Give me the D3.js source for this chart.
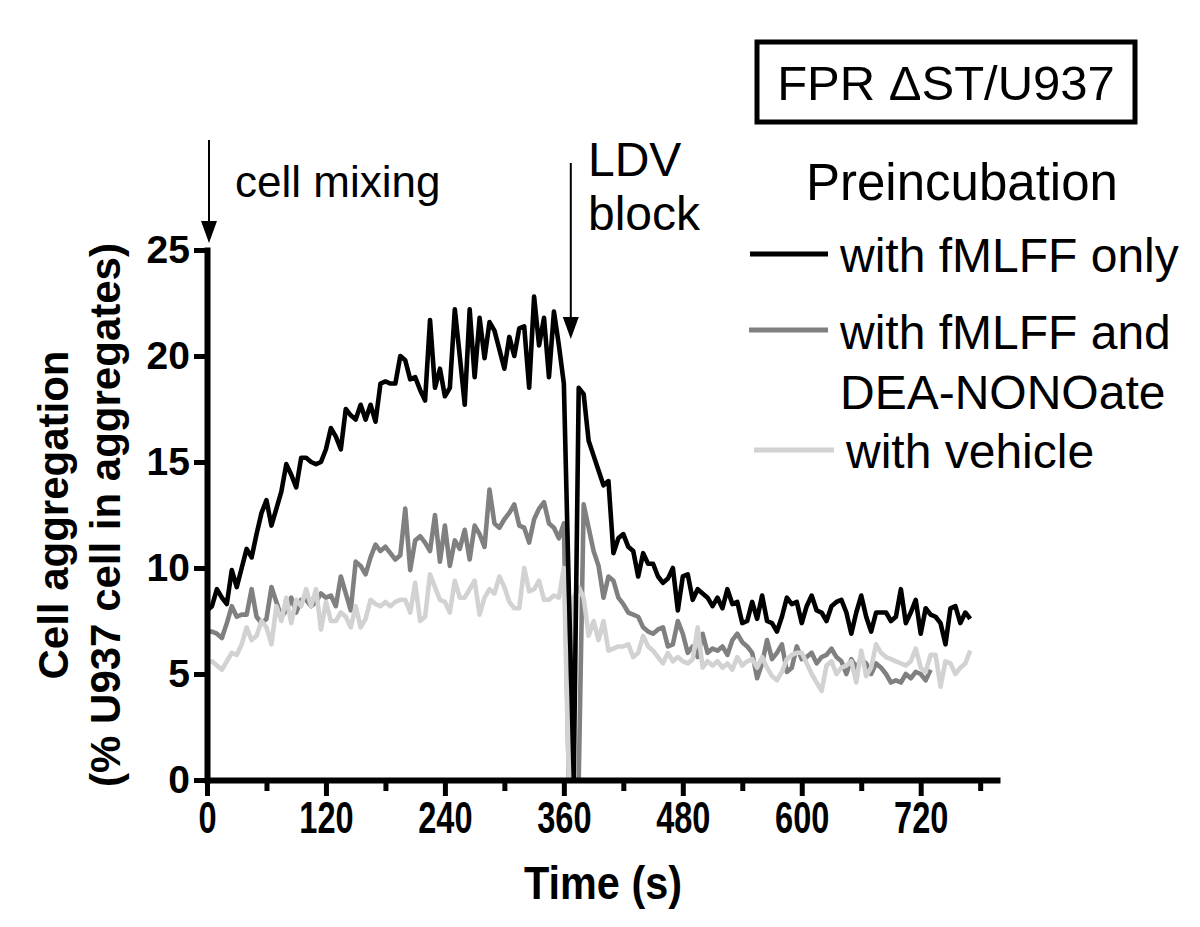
<!DOCTYPE html>
<html>
<head>
<meta charset="utf-8">
<script src="https://cdn.jsdelivr.net/npm/d3@7"></script>
<style>
body{margin:0;background:#fff;}
svg text{font-family:"Liberation Sans", Arial, Helvetica, sans-serif;}
</style>
</head>
<body>
<svg id="chart" width="1200" height="927"></svg>
<script>

// sample times (s), one reading every 5 s
var sampleTimes = [
	0,5,10,15,20,25,30,35,40,45,50,55,
	60,65,70,75,80,85,90,95,100,105,110,115,
	120,125,130,135,140,145,150,155,160,165,170,175,
	180,185,190,195,200,205,210,215,220,225,230,235,
	240,245,250,255,260,265,270,275,280,285,290,295,
	300,305,310,315,320,325,330,335,340,345,350,355,
	360,365,370,375,380,385,390,395,400,405,410,415,
	420,425,430,435,440,445,450,455,460,465,470,475,
	480,485,490,495,500,505,510,515,520,525,530,535,
	540,545,550,555,560,565,570,575,580,585,590,595,
	600,605,610,615,620,625,630,635,640,645,650,655,
	660,665,670,675,680,685,690,695,700,705,710,715,
	720,725,730,735,740,745,750,755,760,765,770
];

// % U937 cells in aggregates
var fmlffOnly = [
	8.0,8.2,9.0,8.6,8.3,9.9,9.1,10.0,10.9,10.5,11.6,12.6,
	13.2,12.0,12.8,13.6,14.9,14.4,13.8,15.2,15.2,15.0,14.9,15.0,
	15.6,16.6,16.2,15.6,17.5,17.2,17.0,17.7,17.0,17.7,16.9,18.7,
	18.8,18.7,18.7,20.0,19.8,18.9,19.0,18.4,17.9,21.7,18.5,19.4,
	18.1,18.5,22.2,20.0,17.7,22.2,19.0,21.8,19.9,21.6,21.2,20.3,
	19.4,20.9,20.0,21.3,21.4,18.5,22.8,20.5,21.8,19.0,22.1,20.5,
	18.7,9.0,0,18.5,18.2,16.0,15.3,14.6,13.9,14.1,10.7,11.4,
	11.6,11.0,10.8,9.6,10.7,10.2,10.2,9.6,9.3,9.5,10.0,8.0,
	9.6,9.7,8.5,9.0,8.8,8.6,8.2,8.6,8.1,9.0,8.3,8.4,
	7.4,7.5,8.4,7.6,8.7,7.5,7.4,7.0,7.7,8.6,8.3,8.4,
	7.4,8.2,8.7,8.0,7.9,7.5,8.2,8.4,8.5,7.9,6.9,7.9,
	8.7,7.7,7.0,7.9,7.9,7.9,7.5,7.7,9.0,7.4,7.9,8.5,
	6.9,8.1,7.8,7.7,7.4,6.4,8.1,8.2,7.4,7.9,7.6
];

var fmlffDea = [
	7.0,7.0,6.9,6.7,7.4,8.2,7.7,7.8,7.8,9.0,7.7,7.4,
	7.6,9.1,8.4,7.7,8.0,8.6,7.9,8.5,8.5,8.2,8.4,8.8,
	8.6,8.7,8.2,9.6,8.8,8.0,10.3,10.1,9.7,10.5,11.1,10.8,
	11.0,10.7,10.4,10.6,12.8,9.9,11.3,11.5,11.2,10.8,12.5,10.3,
	12.0,10.1,11.3,10.9,11.8,10.4,12.0,11.6,11.0,13.7,12.1,11.9,
	12.3,12.6,13.0,12.0,11.9,11.2,12.3,12.8,13.1,12.1,11.9,11.4,
	12.1,0,0,0,13.0,11.9,10.8,10.1,8.6,9.6,9.4,8.6,
	8.3,7.9,7.8,7.7,7.2,7.0,6.9,7.1,7.2,6.3,6.4,7.5,
	6.9,6.0,6.3,5.8,6.9,6.0,6.2,6.1,6.3,5.9,6.6,6.9,
	6.5,6.3,6.0,4.8,5.5,6.6,5.7,6.0,6.4,5.1,5.3,6.3,
	5.7,5.8,6.0,5.5,5.8,5.9,6.2,5.8,5.6,5.0,5.7,5.3,
	5.7,5.5,5.0,5.5,5.3,5.0,4.6,4.7,4.6,5.0,4.8,5.1,
	5.0,4.7,5.2
];

var vehicle = [
	5.5,5.6,5.4,5.2,5.6,6.0,5.9,6.4,7.2,6.6,6.8,7.5,
	7.2,6.4,8.2,7.5,8.6,7.4,8.5,8.2,9.0,8.2,9.0,7.1,
	8.4,7.5,7.5,7.9,7.7,7.2,8.2,7.2,7.6,8.5,8.3,8.2,
	8.4,8.2,8.4,8.5,8.5,7.9,9.3,7.5,7.7,9.7,9.1,8.5,
	8.4,7.9,9.4,8.6,8.6,9.0,9.4,7.8,8.6,9.0,8.8,9.6,
	9.1,8.4,8.1,8.1,10.0,8.9,9.0,9.4,8.5,8.5,8.7,8.6,
	10.0,0,8.6,9.1,8.6,6.8,7.5,6.6,7.5,6.1,6.2,6.3,
	6.3,6.4,5.8,6.0,6.8,6.3,6.1,5.8,5.5,6.0,5.6,5.8,
	5.6,5.5,5.7,7.2,5.3,5.6,5.4,5.6,5.3,5.5,5.2,5.8,
	5.4,5.6,5.7,5.3,5.8,5.3,4.9,4.7,5.1,5.7,5.9,6.0,
	6.0,5.5,5.0,4.6,4.2,5.4,5.6,5.0,5.3,5.4,5.6,4.6,
	6.1,4.9,5.3,6.4,6.0,5.8,5.7,5.6,5.5,5.4,5.6,6.2,
	5.3,5.1,5.9,5.9,4.4,5.6,5.5,5.0,5.3,5.5,6.1
];

var yTicks = [0, 5, 10, 15, 20, 25];
var xMajorTicks = [0, 120, 240, 360, 480, 600, 720];
var xMinorTicks = [60, 180, 300, 420, 540, 660, 780];

var legendTitle = "Preincubation";
var legendLabels = [["with fMLFF only"], ["with fMLFF and", "DEA-NONOate"], ["with vehicle"]];
var seriesColors = ["#000000", "#808080", "#d2d2d2"];
var boxTitle = "FPR \u0394ST/U937";


var svg = d3.select("#chart");

var x = d3.scaleLinear().domain([0, 800]).range([207, 1000]);
var y = d3.scaleLinear().domain([0, 25]).range([780, 250]);

function zip(values){
	return values.map(function(v, i){
		return {t: sampleTimes[i], v: v};
	});
}

var series = [
	{values: zip(fmlffDea), color: seriesColors[1]},
	{values: zip(vehicle), color: seriesColors[2]},
	{values: zip(fmlffOnly), color: seriesColors[0]}
];

var line = d3.line()
	.x(function(d){ return x(d.t); })
	.y(function(d){ return y(d.v); });

svg.append("g")
	.selectAll("path.series")
	.data(series)
	.enter()
	.append("path")
	.classed("series", true)
	.attr("d", function(d){ return line(d.values); })
	.attr("fill", "none")
	.attr("stroke", function(d){ return d.color; })
	.attr("stroke-width", 4.6)
	.attr("stroke-linejoin", "round");

// y axis
var yAxis = svg.append("g")
	.attr("transform", "translate(" + x(0) + ",0)")
	.call(d3.axisLeft(y).tickValues(yTicks).tickSize(13).tickSizeOuter(0).tickPadding(4));
yAxis.select(".domain").attr("stroke-width", 6).attr("stroke-linecap", "square");
yAxis.selectAll(".tick line").attr("stroke-width", 5);
yAxis.selectAll(".tick text")
	.attr("font-size", 39)
	.attr("font-weight", "bold")
	.attr("font-family", "Liberation Sans, Arial, sans-serif")
	.attr("fill", "#000");

// x axis, labelled major ticks
var xAxis = svg.append("g")
	.attr("transform", "translate(0," + y(0) + ")")
	.call(d3.axisBottom(x).tickValues(xMajorTicks).tickSize(16).tickSizeOuter(0).tickPadding(6));
xAxis.select(".domain").attr("stroke-width", 6);
xAxis.selectAll(".tick line").attr("stroke-width", 5);
xAxis.selectAll(".tick text")
	.attr("font-size", 44)
	.attr("font-weight", "bold")
	.attr("font-family", "Liberation Sans, Arial, sans-serif")
	.attr("fill", "#000")
	.attr("transform", "scale(0.74,1)");

// minor ticks
svg.append("g")
	.attr("transform", "translate(0," + y(0) + ")")
	.call(d3.axisBottom(x).tickValues(xMinorTicks).tickSize(11).tickSizeOuter(0).tickFormat(""))
	.call(function(g){
		g.select(".domain").remove();
		g.selectAll(".tick line").attr("stroke-width", 5);
	});

// axis titles
svg.append("text")
	.attr("transform", "translate(603,899) scale(0.9,1)")
	.attr("text-anchor", "middle")
	.attr("font-size", 46)
	.attr("font-weight", "bold")
	.text("Time (s)");

var yTitle = svg.append("g")
	.attr("transform", "translate(0," + ((y(0) + y(25)) / 2) + ") rotate(-90)")
	.attr("text-anchor", "middle")
	.attr("font-size", 42)
	.attr("font-weight", "bold");
yTitle.append("text").attr("x", 0).attr("y", 68).text("Cell aggregation");
yTitle.append("text").attr("x", 0).attr("y", 120).text("(% U937 cell in aggregates)");

// annotation arrows
function arrow(xPos, top, tip){
	var g = svg.append("g");
	g.append("line")
		.attr("x1", xPos).attr("x2", xPos)
		.attr("y1", top).attr("y2", tip - 10)
		.attr("stroke", "#000")
		.attr("stroke-width", 2);
	g.append("path")
		.attr("d", "M" + (xPos - 8) + "," + (tip - 22) + "L" + (xPos + 8) + "," + (tip - 22) + "L" + xPos + "," + tip + "Z")
		.attr("fill", "#000");
}

arrow(x(0) + 2, 140, 243);
arrow(x(367), 163, 339);

svg.append("text")
	.attr("x", 235).attr("y", 197)
	.attr("font-size", 44)
	.text("cell mixing");

svg.append("text")
	.attr("x", 588).attr("y", 176)
	.attr("font-size", 48)
	.text("LDV");
svg.append("text")
	.attr("x", 588).attr("y", 230)
	.attr("font-size", 48)
	.text("block");

// legend
svg.append("text")
	.attr("x", 806).attr("y", 200)
	.attr("font-size", 51)
	.text(legendTitle);

var legendRows = [
	{y: 254, textY: [272], lineX: [750, 828], color: seriesColors[0], labels: legendLabels[0]},
	{y: 330, textY: [349, 409], lineX: [749, 828], color: seriesColors[1], labels: legendLabels[1]},
	{y: 450, textY: [468], lineX: [754, 834], color: seriesColors[2], labels: legendLabels[2]}
];

var legend = svg.append("g")
	.selectAll("g.legend")
	.data(legendRows)
	.enter()
	.append("g")
	.classed("legend", true);

legend.append("line")
	.attr("x1", function(d){ return d.lineX[0]; })
	.attr("x2", function(d){ return d.lineX[1]; })
	.attr("y1", function(d){ return d.y; })
	.attr("y2", function(d){ return d.y; })
	.attr("stroke", function(d){ return d.color; })
	.attr("stroke-width", 5);

legend.each(function(d){
	var g = d3.select(this);
	d.labels.forEach(function(label, i){
		g.append("text")
			.attr("x", d.lineX[1] + 12)
			.attr("y", d.textY[i])
			.attr("font-size", 48)
			.text(label);
	});
});

// title box
svg.append("rect")
	.attr("x", 757).attr("y", 42)
	.attr("width", 378).attr("height", 80)
	.attr("fill", "none")
	.attr("stroke", "#000")
	.attr("stroke-width", 5);
svg.append("text")
	.attr("x", 946).attr("y", 100)
	.attr("text-anchor", "middle")
	.attr("font-size", 49)
	.text(boxTitle);

</script>
</body>
</html>
